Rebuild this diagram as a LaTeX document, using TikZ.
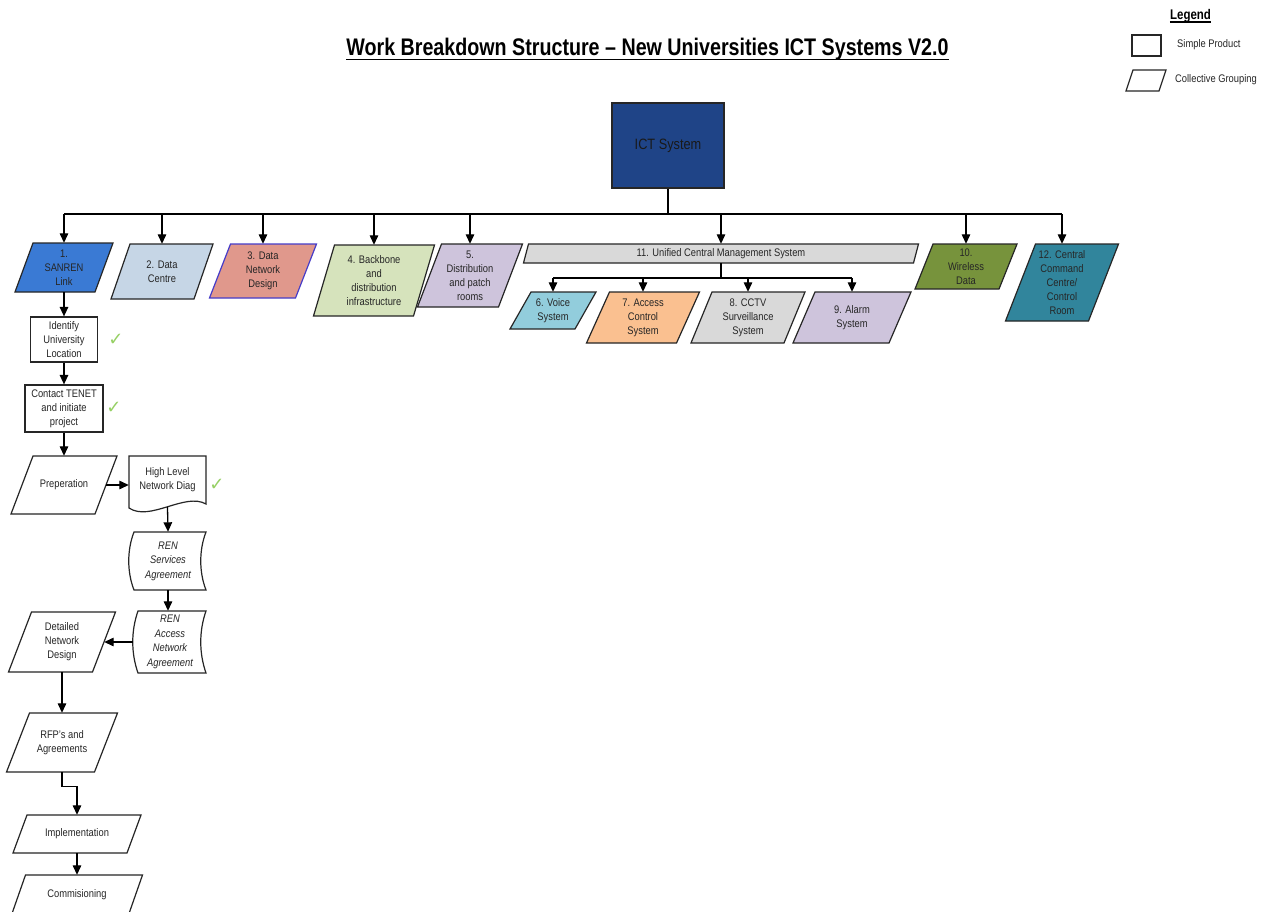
\documentclass[tikz,border=0pt]{standalone}
\usepackage{fontspec}
\setmainfont{Liberation Sans}[FakeStretch=0.85]
\newfontfamily\titlefont{Liberation Sans}[FakeStretch=0.82]
\newfontfamily\symfont{DejaVu Sans}
\usetikzlibrary{arrows.meta,calc}

\definecolor{ictblue}{RGB}{31,68,135}
\definecolor{sanrenblue}{RGB}{58,122,212}
\definecolor{dcentre}{RGB}{198,214,230}
\definecolor{dnet}{RGB}{224,152,140}
\definecolor{dnetline}{RGB}{70,60,200}
\definecolor{backb}{RGB}{214,227,188}
\definecolor{lav}{RGB}{206,196,220}
\definecolor{greyf}{RGB}{217,217,217}
\definecolor{voicec}{RGB}{146,205,220}
\definecolor{accessc}{RGB}{250,192,144}
\definecolor{olivec}{RGB}{119,147,60}
\definecolor{cccteal}{RGB}{49,133,156}
\definecolor{chkgreen}{RGB}{150,208,100}

\tikzset{
  txt/.style={align=center, inner sep=0pt, text=black!85, font=\fontsize{11}{14}\selectfont},
  itxt/.style={txt, font=\fontsize{11}{14.5}\selectfont\itshape},
  boxline/.style={draw=black!85, line width=1.2pt},
  arr/.style={draw=black, line width=1.3pt, -{Triangle[length=9.5pt,width=8.5pt]}},
  link/.style={draw=black, line width=1.3pt},
  chk/.style={text=chkgreen, font=\symfont\fontsize{18}{18}\selectfont, inner sep=0pt},
}

% name, cx, cy, width, height, slant, style, text
\newcommand\parnode[8]{%
  \path[boxline,#7] ({#2-#4/2-#6/2},{#3+#5/2}) -- ({#2+#4/2-#6/2},{#3+#5/2}) -- ({#2+#4/2+#6/2},{#3-#5/2}) -- ({#2-#4/2+#6/2},{#3-#5/2}) -- cycle;
  \node[txt, minimum width=#4, minimum height=#5] (#1) at (#2,#3) {#8};
}

\begin{document}
\begin{tikzpicture}[x=1pt,y=-1pt]
\useasboundingbox (0,0) rectangle (1272,911);
\clip (0,0) rectangle (1272,911);
\fill[white] (0,0) rectangle (1272,911);

% title
\node[font=\titlefont\bfseries\fontsize{24}{26}\selectfont, inner sep=0pt, anchor=base] (title) at (647.5,55) {Work Breakdown Structure – New Universities ICT Systems V2.0};
\draw[line width=1.6pt] ([yshift=-4.5pt]title.base west) -- ([yshift=-4.5pt]title.base east);

% legend
\node[font=\titlefont\bfseries\fontsize{14}{15}\selectfont, inner sep=0pt, anchor=base] (legend) at (1190.5,19) {Legend};
\draw[line width=1.2pt] ([yshift=-3pt]legend.base west) -- ([yshift=-3pt]legend.base east);
\node[boxline, minimum width=29, minimum height=21, inner sep=0pt] (legrect) at (1146.5,45.5) {};
\node[txt, anchor=west] (legsimple) at (1177,45) {Simple Product};
\parnode{legpar}{1146}{80.5}{33}{21}{7}{fill=white}{}
\node[txt, anchor=west] (legcoll) at (1175,80) {Collective Grouping};

% root
\node[boxline, fill=ictblue, minimum width=112, minimum height=85, inner sep=0pt, text=black!90, font=\fontsize{15}{16}\selectfont] (ict) at (668,145.5) {ICT System};

% first level
\parnode{sanren}{64}{267.5}{80}{49}{18}{fill=sanrenblue}{1.\\SANREN\\Link}
\parnode{dc}{162}{271.5}{83}{55}{19}{fill=dcentre}{2. Data\\Centre}
\parnode{dnd}{263}{271}{86}{54}{21}{fill=dnet, draw=dnetline}{3. Data\\Network\\Design}
\parnode{bb}{374}{280.5}{100}{71}{21}{fill=backb}{4. Backbone\\and\\distribution\\infrastructure}
\parnode{dist}{470}{275.5}{81}{63}{24}{fill=lav}{5.\\Distribution\\and patch\\rooms}
\parnode{ucms}{721}{253.5}{390}{19}{5}{fill=greyf}{11. Unified Central Management System}
\parnode{wd}{966}{266.5}{84}{45}{18}{fill=olivec}{10.\\Wireless\\Data}
\parnode{ccc}{1062}{282.5}{83}{77}{30}{fill=cccteal}{12. Central\\Command\\Centre/\\Control\\Room}

% second level under 11
\parnode{voice}{553}{310.5}{65}{37}{21}{fill=voicec}{6. Voice\\System}
\parnode{acs}{643}{317.5}{90}{51}{23}{fill=accessc}{7. Access\\Control\\System}
\parnode{cctv}{748}{317.5}{93}{51}{21}{fill=greyf}{8. CCTV\\Surveillance\\System}
\parnode{alarm}{852}{317.5}{96}{51}{22}{fill=lav}{9. Alarm\\System}

% root connectors
\coordinate (bus) at (668,214);
\draw[link] (ict.south) -- (bus);
\draw[link] (sanren.north |- bus) -- (ccc.north |- bus);
\foreach \n in {sanren,dc,dnd,bb,dist,ucms,wd,ccc}
  \draw[arr] (\n.north |- bus) -- (\n.north);

\coordinate (sbus) at (721,278);
\draw[link] (ucms.south) -- (sbus);
\draw[link] (voice.north |- sbus) -- (alarm.north |- sbus);
\foreach \n in {voice,acs,cctv,alarm}
  \draw[arr] (\n.north |- sbus) -- (\n.north);

% SANREN column
\node[boxline, txt, minimum width=67, minimum height=45] (ident) at (64,339.5) {Identify\\University\\Location};
\node[boxline, txt, minimum width=78, minimum height=47] (contact) at (64,408.5) {Contact TENET\\and initiate\\project};
\parnode{prep}{64}{485}{84}{58}{22}{fill=white}{Preperation}

\path[boxline, fill=white] (129,456) -- (206,456) -- (206,504) .. controls (185,492) and (150,522) .. (129,508) -- cycle;
\node[txt, minimum width=77, minimum height=48] (hl) at (167.5,480) {High Level\\Network Diag};

\path[boxline, fill=white] (134,532) -- (206,532) .. controls (199,550) and (199,572) .. (206,590) -- (134,590) .. controls (127,572) and (127,550) .. (134,532) -- cycle;
\node[itxt, minimum width=72, minimum height=58] (rens) at (168,561) {REN\\Services\\Agreement};

\path[boxline, fill=white] (138,611) -- (206,611) .. controls (199,631) and (199,653) .. (206,673) -- (138,673) .. controls (131,653) and (131,631) .. (138,611) -- cycle;
\node[itxt, minimum width=74, minimum height=62] (rena) at (170,642) {REN\\Access\\Network\\Agreement};

\parnode{dnd2}{62}{642}{84}{60}{23}{fill=white}{Detailed\\Network\\Design}
\parnode{rfp}{62}{742.5}{88}{59}{23}{fill=white}{RFP's and\\Agreements}
\parnode{impl}{77}{834}{114}{38}{14}{fill=white}{Implementation}
\parnode{comm}{77}{895}{117}{40}{14}{fill=white}{Commisioning}

% column connectors
\draw[arr] (sanren.south) -- (ident.north);
\draw[arr] (ident.south) -- (contact.north);
\draw[arr] (contact.south) -- (prep.north);
\draw[arr] (prep.east) -- (prep.east -| hl.west);
\draw[arr] ([yshift=-3pt]hl.south) -- (rens.north);
\draw[arr] (rens.south) -- (rens.south |- rena.north);
\draw[arr] (rena.west) -- (rena.west -| dnd2.east);
\draw[arr] (dnd2.south) -- (rfp.north);
\draw[arr] (rfp.south) -- ++(0,14) -| (impl.north);
\draw[arr] (impl.south) -- (comm.north);

% check marks
\node[chk] (chk1) at (116,340) {✓};
\node[chk] (chk2) at (114,408) {✓};
\node[chk] (chk3) at (217,485) {✓};
\end{tikzpicture}
\end{document}
